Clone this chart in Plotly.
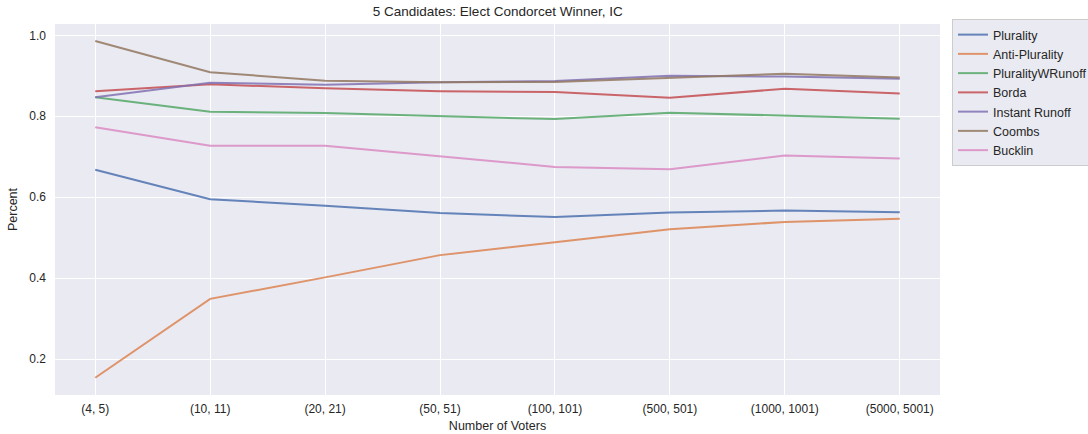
import plotly.graph_objects as go

categories = ["(4, 5)", "(10, 11)", "(20, 21)", "(50, 51)", "(100, 101)", "(500, 501)", "(1000, 1001)", "(5000, 5001)"]

plurality = [0.668, 0.595, 0.579, 0.561, 0.551, 0.562, 0.567, 0.563]
anti_plurality = [0.154, 0.349, 0.402, 0.457, 0.489, 0.521, 0.539, 0.547]
plurality_w_runoff = [0.847, 0.811, 0.808, 0.800, 0.793, 0.809, 0.802, 0.794]
borda = [0.862, 0.879, 0.869, 0.862, 0.860, 0.846, 0.868, 0.856]
instant_runoff = [0.847, 0.883, 0.878, 0.884, 0.887, 0.900, 0.898, 0.893]
coombs = [0.986, 0.909, 0.888, 0.884, 0.885, 0.895, 0.905, 0.896]
bucklin = [0.773, 0.727, 0.727, 0.701, 0.675, 0.669, 0.703, 0.696]

series = [
    ("Plurality", plurality, "#4C72B0"),
    ("Anti-Plurality", anti_plurality, "#DD8452"),
    ("PluralityWRunoff", plurality_w_runoff, "#55A868"),
    ("Borda", borda, "#C44E52"),
    ("Instant Runoff", instant_runoff, "#8172B3"),
    ("Coombs", coombs, "#937860"),
    ("Bucklin", bucklin, "#DA8BC3"),
]

FONT = "Liberation Sans, Arial, sans-serif"
TXT = "#262626"

fig = go.Figure()
for name, vals, color in series:
    fig.add_trace(go.Scatter(
        x=categories, y=vals, name=name, mode="lines",
        line=dict(color=color, width=2), opacity=0.85,
    ))

fig.update_layout(
    width=1088, height=434,
    paper_bgcolor="white",
    plot_bgcolor="#EAEAF2",
    margin=dict(l=55, r=148, t=24, b=39, autoexpand=False),
    font=dict(family=FONT, size=12, color=TXT),
    title=dict(text="5 Candidates: Elect Condorcet Winner, IC", x=0.4575, xanchor="center",
               y=1 - 7 / 434, yanchor="top", font=dict(size=13.5, color=TXT)),
    showlegend=True,
    legend=dict(
        xref="container", yref="container",
        x=952 / 1088, y=1 - 19 / 434, xanchor="left", yanchor="top",
        bgcolor="#EAEAF2", bordercolor="#CCCCCC", borderwidth=1,
        font=dict(size=12.5, color=TXT),
        tracegroupgap=0,
    ),
)
fig.update_xaxes(
    type="category", range=[-0.35, 7.35], automargin=False,
    showgrid=True, gridcolor="white", gridwidth=1.2,
    zeroline=False, showline=False, ticks="", ticklabelstandoff=5,
    tickfont=dict(size=12, color=TXT),
    title=dict(text="Number of Voters", font=dict(size=12.5, color=TXT), standoff=6),
)
fig.update_yaxes(
    range=[0.1114, 1.0280], automargin=False,
    tickvals=[0.2, 0.4, 0.6, 0.8, 1.0], ticktext=["0.2", "0.4", "0.6", "0.8", "1.0"],
    showgrid=True, gridcolor="white", gridwidth=1.2,
    zeroline=False, showline=False, ticks="", ticklabelstandoff=8,
    tickfont=dict(size=12, color=TXT),
    title=dict(text="Percent", font=dict(size=12.5, color=TXT), standoff=8),
)

fig.write_html("out.html", config={"displayModeBar": False},
               post_script="document.body.style.margin='0';")
